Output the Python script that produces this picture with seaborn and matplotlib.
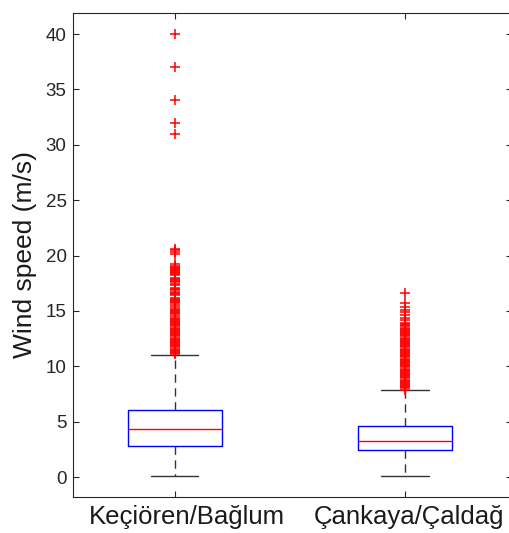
import numpy as np
import pandas as pd
import matplotlib
matplotlib.use("Agg")
import matplotlib.pyplot as plt
import matplotlib.transforms as mtransforms
import seaborn as sns

# ------------------------------
# Box statistics
# ------------------------------
sites = ["Keçiören/Bağlum", "Çankaya/Çaldağ"]
q1 = [2.8, 2.45]
median = [4.3, 3.3]
q3 = [6.07, 4.63]
whisker_low = [0.1, 0.1]
whisker_high = [11.0, 7.82]

# outliers (red crosses)
outliers_kb = [40.0, 37.0, 34.0, 32.0, 31.0,
               20.6, 20.5, 20.3, 20.1, 19.2, 19.1, 19.0, 18.9, 18.8, 18.7,
               18.6, 18.5, 18.4, 18.3, 18.2, 18.0, 17.9, 17.8, 17.7, 17.6,
               17.4, 17.3, 17.1, 17.0, 16.9, 16.7, 16.6, 16.5, 16.4, 16.2,
               16.1, 16.0, 15.9, 15.8, 15.7, 15.5, 15.4, 15.2, 15.1, 15.0,
               14.9, 14.8, 14.7, 14.5, 14.4, 14.3, 14.2, 14.1, 14.0, 13.9,
               13.8, 13.7, 13.6, 13.5, 13.4, 13.3, 13.2, 13.1, 13.0, 12.9,
               12.8, 12.7, 12.6, 12.5, 12.4, 12.3, 12.2, 12.1, 12.0, 11.9,
               11.8, 11.7, 11.6, 11.5, 11.4, 11.3, 11.2, 11.1]
outliers_cc = [16.6, 15.7, 15.4, 15.1, 14.9, 14.6, 14.4, 14.2,
               13.9, 13.8, 13.7, 13.6, 13.5, 13.4, 13.3, 13.2, 13.1, 13.0,
               12.9, 12.8, 12.7, 12.6, 12.5, 12.4, 12.3, 12.2, 12.1, 12.0,
               11.9, 11.8, 11.7, 11.6, 11.5, 11.4, 11.3, 11.2, 11.1, 11.0,
               10.9, 10.8, 10.7, 10.6, 10.5, 10.4, 10.3, 10.2, 10.1, 10.0,
               9.9, 9.8, 9.7, 9.6, 9.5, 9.4, 9.3, 9.2, 9.1, 9.0,
               8.9, 8.8, 8.7, 8.6, 8.5, 8.4, 8.3, 8.2, 8.1, 8.0, 7.9]

# ------------------------------
# Style
# ------------------------------
sns.set_style("ticks")
plt.rcParams['font.family'] = ['Liberation Sans', 'DejaVu Sans']

fig = plt.figure(figsize=(5.10, 5.33), dpi=100)
W, H = 510, 533
ax = fig.add_axes([73.5 / W, (H - 497) / H, (512 - 73.5) / W, (497 - 13) / H])

# ------------------------------
# Boxes (precomputed stats)
# ------------------------------
stats = []
for i, site in enumerate(sites):
    stats.append(dict(label=site, med=median[i], q1=q1[i], q3=q3[i],
                      whislo=whisker_low[i], whishi=whisker_high[i], fliers=[]))

ax.bxp(stats, positions=[0, 1], widths=0.41, showfliers=False,
       boxprops=dict(color="blue", linewidth=1),
       medianprops=dict(color="red", linewidth=1),
       whiskerprops=dict(color="#333333", linewidth=1, linestyle=(0, (6, 4))),
       capprops=dict(color="#333333", linewidth=1))

# ------------------------------
# Outliers
# ------------------------------
out_df = pd.DataFrame({
    "site": [sites[0]] * len(outliers_kb) + [sites[1]] * len(outliers_cc),
    "speed": outliers_kb + outliers_cc,
})
out_df["pos"] = out_df["site"].map({s: i for i, s in enumerate(sites)})
sns.scatterplot(data=out_df, x="pos", y="speed", marker="+", color="red",
                s=60, linewidth=1.1, ax=ax, legend=False, zorder=3)

# ------------------------------
# Axes
# ------------------------------
ax.set_xlim(-0.44, 1.465)
ax.set_ylim(-1.8, 41.9)
ax.set_xticks([0, 1])
ax.set_xticklabels(sites, fontsize=18.5, color="#1a1a1a")
ax.set_yticks(np.arange(0, 41, 5))
ax.tick_params(axis="y", labelsize=13.5, labelcolor="#262626", pad=5)
ax.tick_params(axis="x", pad=6)
ax.tick_params(direction="in", length=4, width=0.8, color="#262626",
               top=True, right=True)
ax.set_xlabel("")
ax.set_ylabel("Wind speed (m/s)", fontsize=19, color="#1a1a1a", labelpad=6)
for sp in ax.spines.values():
    sp.set_color("#262626")
    sp.set_linewidth(0.8)

# labels sit a bit right of their ticks in the original
for lab, dx in zip(ax.get_xticklabels(), [12, 4]):
    lab.set_transform(lab.get_transform() +
                      mtransforms.ScaledTranslation(dx / 100, 0, fig.dpi_scale_trans))

plt.savefig("out.png", dpi=100)
